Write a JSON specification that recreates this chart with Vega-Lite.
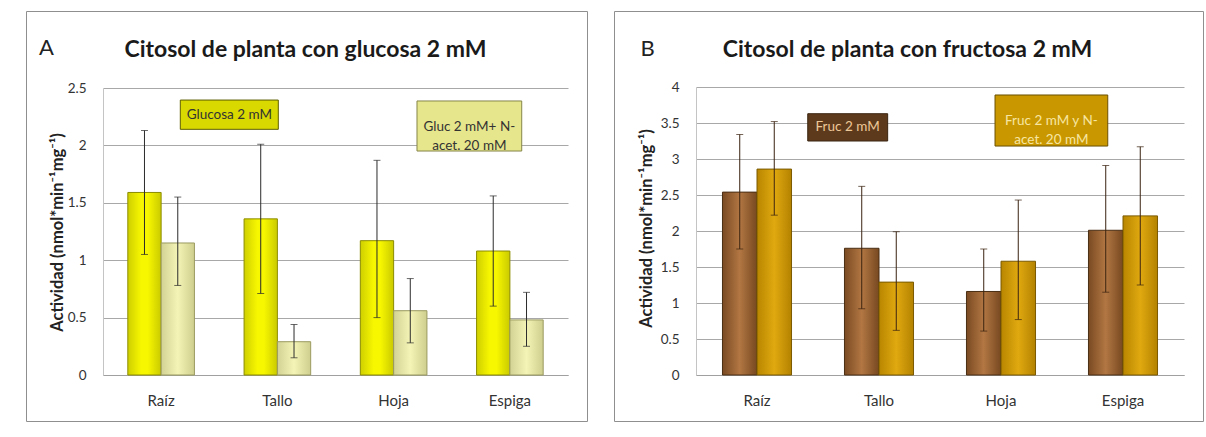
{
  "$schema": "https://vega.github.io/schema/vega-lite/v6.json",
  "padding": {"left": 25, "top": 10, "right": 0, "bottom": 0},
  "background": "white",
  "spacing": 27,
  "bounds": "flush",
  "resolve": {"scale": {"fill": "independent", "stroke": "independent", "color": "independent", "xOffset": "independent"}},
  "config": {
    "font": "Lato",
    "view": {"stroke": "#8F8F8F", "strokeWidth": 1, "fill": "white"},
    "axis": {"labelFont": "Lato", "titleFont": "Lato"},
    "title": {"font": "Lato"}
  },
  "datasets": {
    "glucosa": [
      {"organo": "Raíz", "serie": "Glucosa 2 mM", "valor": 1.59, "low": 1.05, "high": 2.13},
      {"organo": "Raíz", "serie": "Gluc 2 mM+ N-acet. 20 mM", "valor": 1.15, "low": 0.78, "high": 1.55},
      {"organo": "Tallo", "serie": "Glucosa 2 mM", "valor": 1.36, "low": 0.71, "high": 2.01},
      {"organo": "Tallo", "serie": "Gluc 2 mM+ N-acet. 20 mM", "valor": 0.29, "low": 0.15, "high": 0.44},
      {"organo": "Hoja", "serie": "Glucosa 2 mM", "valor": 1.17, "low": 0.50, "high": 1.87},
      {"organo": "Hoja", "serie": "Gluc 2 mM+ N-acet. 20 mM", "valor": 0.56, "low": 0.28, "high": 0.84},
      {"organo": "Espiga", "serie": "Glucosa 2 mM", "valor": 1.08, "low": 0.60, "high": 1.56},
      {"organo": "Espiga", "serie": "Gluc 2 mM+ N-acet. 20 mM", "valor": 0.48, "low": 0.25, "high": 0.72}
    ],
    "fructosa": [
      {"organo": "Raíz", "serie": "Fruc 2 mM", "valor": 2.54, "low": 1.75, "high": 3.34},
      {"organo": "Raíz", "serie": "Fruc 2 mM y N-acet. 20 mM", "valor": 2.86, "low": 2.22, "high": 3.52},
      {"organo": "Tallo", "serie": "Fruc 2 mM", "valor": 1.76, "low": 0.92, "high": 2.62},
      {"organo": "Tallo", "serie": "Fruc 2 mM y N-acet. 20 mM", "valor": 1.29, "low": 0.62, "high": 1.99},
      {"organo": "Hoja", "serie": "Fruc 2 mM", "valor": 1.16, "low": 0.61, "high": 1.75},
      {"organo": "Hoja", "serie": "Fruc 2 mM y N-acet. 20 mM", "valor": 1.58, "low": 0.77, "high": 2.43},
      {"organo": "Espiga", "serie": "Fruc 2 mM", "valor": 2.01, "low": 1.15, "high": 2.91},
      {"organo": "Espiga", "serie": "Fruc 2 mM y N-acet. 20 mM", "valor": 2.21, "low": 1.25, "high": 3.17}
    ],
    "notasA": [
      {"id": "g", "label": "Glucosa 2 mM", "x0": 0.665, "x1": 1.508, "y0": 2.14, "y1": 2.395, "tx": 1.087, "ty": 2.268},
      {"id": "n", "label": "Gluc 2 mM+ N-\nacet. 20 mM", "x0": 2.701, "x1": 3.602, "y0": 1.951, "y1": 2.387, "tx": 3.151, "ty": 2.16}
    ],
    "notasB": [
      {"id": "f", "label": "Fruc 2 mM", "x0": 0.916, "x1": 1.571, "y0": 3.25, "y1": 3.629, "tx": 1.243, "ty": 3.44},
      {"id": "n", "label": "Fruc 2 mM y N-\nacet. 20 mM", "x0": 2.451, "x1": 3.375, "y0": 3.18, "y1": 3.889, "tx": 2.913, "ty": 3.53}
    ]
  },
  "hconcat": [
    {
      "width": 561,
      "height": 410,
      "title": {"text": "Citosol de planta con glucosa 2 mM", "frame": "group", "anchor": "middle", "offset": -69, "baseline": "alphabetic", "fontSize": 23, "fontWeight": "bold", "color": "#1a1a1a", "dx": -1},
      "layer": [
        {
          "data": {"name": "glucosa"},
          "encoding": {
            "x": {"field": "organo", "type": "nominal", "sort": ["Raíz", "Tallo", "Hoja", "Espiga"],
              "scale": {"range": [77, 542], "paddingInner": 0.427, "paddingOuter": 0.2135},
              "axis": {"offset": -46, "ticks": false, "labelPadding": 18, "labelAngle": 0, "labelFontSize": 15, "labelColor": "#333333", "labelBaseline": "top", "domainColor": "#A0A0A0", "grid": false,
                "title": "A", "titleFontSize": 22, "titleFontWeight": "normal", "titleColor": "#222222", "titleX": 20, "titleY": -328, "titleAlign": "center", "titleBaseline": "middle"}},
            "xOffset": {"field": "serie", "type": "nominal", "scale": {"domain": ["Glucosa 2 mM", "Gluc 2 mM+ N-acet. 20 mM"], "paddingInner": 0, "paddingOuter": 0}}
          },
          "layer": [
            {
              "transform": [{"filter": "datum.serie == 'Glucosa 2 mM'"}],
              "mark": {"type": "bar", "stroke": "#8C8C00", "strokeWidth": 1,
                "fill": {"gradient": "linear", "x1": 0, "x2": 1, "y1": 0, "y2": 0, "stops": [{"offset": 0, "color": "#CFCF00"}, {"offset": 0.4, "color": "#F7F700"}, {"offset": 0.6, "color": "#F7F700"}, {"offset": 1, "color": "#CACA00"}]}},
              "encoding": {
                "y": {"field": "valor", "type": "quantitative", "scale": {"domain": [0, 2.5], "range": [364, 77], "nice": false},
                  "axis": {"values": [0, 0.5, 1, 1.5, 2, 2.5], "format": "~g", "offset": -77, "ticks": false, "labelPadding": 17, "labelFontSize": 13.5, "labelColor": "#333333", "domainColor": "#C4C4C4", "grid": true, "gridColor": "#A8A8A8",
                    "title": "Actividad (nmol*min⁻¹mg⁻¹)", "titleFontSize": 16.5, "titleFontWeight": "bold", "titleColor": "#222222", "titleAngle": -90, "titleX": -45.5, "titleY": 221, "titleAlign": "center", "titleBaseline": "middle"}}
              }
            },
            {
              "transform": [{"filter": "datum.serie != 'Glucosa 2 mM'"}],
              "mark": {"type": "bar", "stroke": "#9A9A60", "strokeWidth": 1,
                "fill": {"gradient": "linear", "x1": 0, "x2": 1, "y1": 0, "y2": 0, "stops": [{"offset": 0, "color": "#D2D294"}, {"offset": 0.5, "color": "#F4F4B6"}, {"offset": 1, "color": "#CECE8E"}]}},
              "encoding": {"y": {"field": "valor", "type": "quantitative"}}
            },
            {
              "mark": {"type": "rule", "color": "#2B2B2B", "strokeWidth": 1},
              "encoding": {"y": {"field": "low", "type": "quantitative"}, "y2": {"field": "high"}}
            },
            {
              "mark": {"type": "tick", "color": "#2B2B2B", "thickness": 1, "size": 7},
              "encoding": {"y": {"field": "low", "type": "quantitative"}}
            },
            {
              "mark": {"type": "tick", "color": "#2B2B2B", "thickness": 1, "size": 7},
              "encoding": {"y": {"field": "high", "type": "quantitative"}}
            }
          ]
        },
        {
          "data": {"name": "notasA"},
          "layer": [
            {
              "mark": {"type": "rect", "strokeWidth": 1},
              "encoding": {
                "x": {"field": "x0", "type": "quantitative", "scale": {"domain": [0, 4], "range": [77, 542], "nice": false, "zero": false}, "axis": null},
                "x2": {"field": "x1"},
                "y": {"field": "y0", "type": "quantitative"},
                "y2": {"field": "y1"},
                "fill": {"field": "id", "type": "nominal", "scale": {"domain": ["g", "n"], "range": ["#D9D900", "#E6E68C"]}, "legend": null},
                "stroke": {"field": "id", "type": "nominal", "scale": {"domain": ["g", "n"], "range": ["#5E5E00", "#86864A"]}, "legend": null}
              }
            },
            {
              "mark": {"type": "text", "fontSize": 13.5, "lineBreak": "\n", "lineHeight": 19, "align": "center", "baseline": "middle", "color": "#333333"},
              "encoding": {
                "x": {"field": "tx", "type": "quantitative"},
                "y": {"field": "ty", "type": "quantitative"},
                "text": {"field": "label"}
              }
            }
          ]
        }
      ],
      "resolve": {"scale": {"x": "independent"}}
    },
    {
      "width": 589,
      "height": 410,
      "title": {"text": "Citosol de planta con fructosa 2 mM", "frame": "group", "anchor": "middle", "offset": -69, "baseline": "alphabetic", "fontSize": 23, "fontWeight": "bold", "color": "#1a1a1a", "dx": -1},
      "layer": [
        {
          "data": {"name": "fructosa"},
          "encoding": {
            "x": {"field": "organo", "type": "nominal", "sort": ["Raíz", "Tallo", "Hoja", "Espiga"],
              "scale": {"range": [82, 570], "paddingInner": 0.434, "paddingOuter": 0.217},
              "axis": {"offset": -46, "ticks": false, "labelPadding": 18, "labelAngle": 0, "labelFontSize": 15, "labelColor": "#333333", "labelBaseline": "top", "domainColor": "#A0A0A0", "grid": false,
                "title": "B", "titleFontSize": 22, "titleFontWeight": "normal", "titleColor": "#222222", "titleX": 33, "titleY": -327, "titleAlign": "center", "titleBaseline": "middle"}},
            "xOffset": {"field": "serie", "type": "nominal", "scale": {"domain": ["Fruc 2 mM", "Fruc 2 mM y N-acet. 20 mM"], "paddingInner": 0, "paddingOuter": 0}}
          },
          "layer": [
            {
              "transform": [{"filter": "datum.serie == 'Fruc 2 mM'"}],
              "mark": {"type": "bar", "stroke": "#4A2E14", "strokeWidth": 1,
                "fill": {"gradient": "linear", "x1": 0, "x2": 1, "y1": 0, "y2": 0, "stops": [{"offset": 0, "color": "#7A4A22"}, {"offset": 0.5, "color": "#B27743"}, {"offset": 1, "color": "#774820"}]}},
              "encoding": {
                "y": {"field": "valor", "type": "quantitative", "scale": {"domain": [0, 4], "range": [364, 76], "nice": false},
                  "axis": {"values": [0, 0.5, 1, 1.5, 2, 2.5, 3, 3.5, 4], "format": "~g", "offset": -82, "ticks": false, "labelPadding": 17, "labelFontSize": 13.5, "labelColor": "#333333", "domainColor": "#C4C4C4", "grid": true, "gridColor": "#A8A8A8",
                    "title": "Actividad (nmol*min⁻¹mg⁻¹)", "titleFontSize": 16.5, "titleFontWeight": "bold", "titleColor": "#222222", "titleAngle": -90, "titleX": -49.5, "titleY": 217, "titleAlign": "center", "titleBaseline": "middle"}}
              }
            },
            {
              "transform": [{"filter": "datum.serie != 'Fruc 2 mM'"}],
              "mark": {"type": "bar", "stroke": "#7A5A00", "strokeWidth": 1,
                "fill": {"gradient": "linear", "x1": 0, "x2": 1, "y1": 0, "y2": 0, "stops": [{"offset": 0, "color": "#B88600"}, {"offset": 0.5, "color": "#E0A910"}, {"offset": 1, "color": "#B48200"}]}},
              "encoding": {"y": {"field": "valor", "type": "quantitative"}}
            },
            {
              "mark": {"type": "rule", "color": "#3A2210", "strokeWidth": 1},
              "encoding": {"y": {"field": "low", "type": "quantitative"}, "y2": {"field": "high"}}
            },
            {
              "mark": {"type": "tick", "color": "#3A2210", "thickness": 1, "size": 7},
              "encoding": {"y": {"field": "low", "type": "quantitative"}}
            },
            {
              "mark": {"type": "tick", "color": "#3A2210", "thickness": 1, "size": 7},
              "encoding": {"y": {"field": "high", "type": "quantitative"}}
            }
          ]
        },
        {
          "data": {"name": "notasB"},
          "layer": [
            {
              "mark": {"type": "rect", "strokeWidth": 1},
              "encoding": {
                "x": {"field": "x0", "type": "quantitative", "scale": {"domain": [0, 4], "range": [82, 570], "nice": false, "zero": false}, "axis": null},
                "x2": {"field": "x1"},
                "y": {"field": "y0", "type": "quantitative"},
                "y2": {"field": "y1"},
                "fill": {"field": "id", "type": "nominal", "scale": {"domain": ["f", "n"], "range": ["#5E3A1C", "#C99700"]}, "legend": null},
                "stroke": {"field": "id", "type": "nominal", "scale": {"domain": ["f", "n"], "range": ["#3A2410", "#6A5000"]}, "legend": null}
              }
            },
            {
              "mark": {"type": "text", "fontSize": 13.5, "lineBreak": "\n", "lineHeight": 19, "align": "center", "baseline": "middle"},
              "encoding": {
                "x": {"field": "tx", "type": "quantitative"},
                "y": {"field": "ty", "type": "quantitative"},
                "text": {"field": "label"},
                "color": {"field": "id", "type": "nominal", "scale": {"domain": ["f", "n"], "range": ["#EDC898", "#F7E6A2"]}, "legend": null}
              }
            }
          ]
        }
      ],
      "resolve": {"scale": {"x": "independent"}}
    }
  ]
}
